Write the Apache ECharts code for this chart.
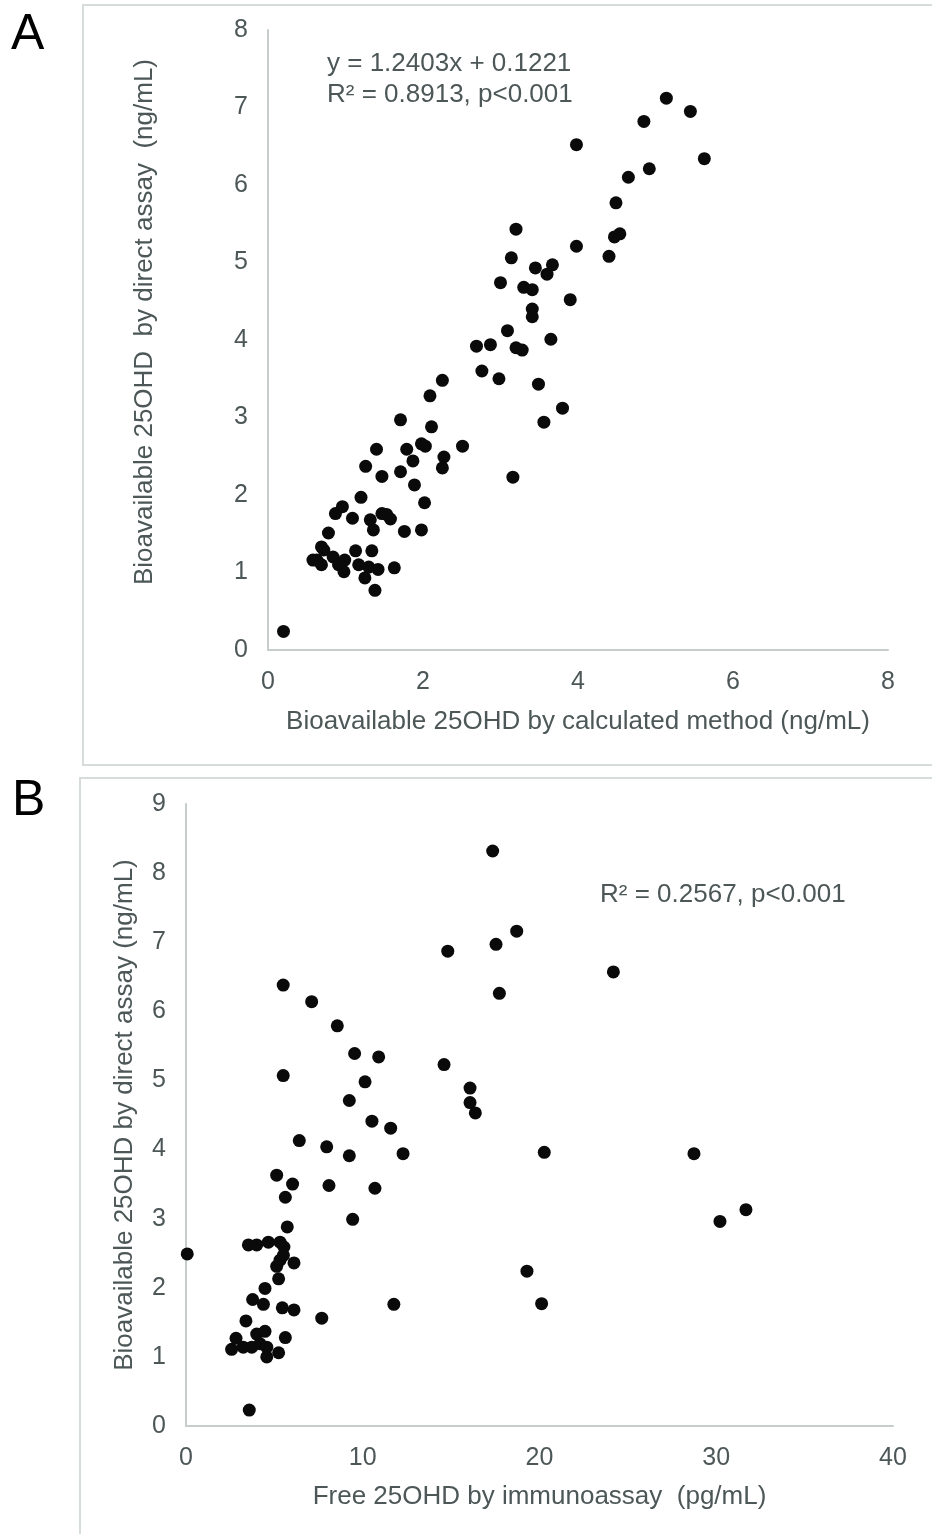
<!DOCTYPE html>
<html lang="en">
<head>
    <meta charset="UTF-8">
    <title>Bioavailable 25OHD</title>
    <style>
        body { margin: 0; background: #fff; }
        #chart { width: 932px; height: 1534px; }
    </style>
</head>
<body>
<div id="chart"></div>

<script src="https://cdn.jsdelivr.net/npm/echarts@6/dist/echarts.min.js"></script>
<script>
    // Panel A: calculated vs direct assay (ng/mL)
    let calcA = [0.20, 0.58, 0.63, 0.69, 0.69, 0.72, 0.78, 0.84, 0.87, 0.91, 0.96, 0.98, 0.99, 1.09, 1.13, 1.17,
        1.20, 1.25, 1.26, 1.30, 1.32, 1.34, 1.36, 1.38, 1.40, 1.42, 1.47, 1.47, 1.53, 1.58, 1.63, 1.71, 1.71,
        1.76, 1.79, 1.87, 1.89, 1.98, 1.98, 2.02, 2.03, 2.09, 2.11, 2.25, 2.25, 2.27, 2.51, 2.69, 2.76, 2.87,
        2.98, 3.00, 3.09, 3.14, 3.16, 3.20, 3.20, 3.28, 3.30, 3.41, 3.41, 3.41, 3.45, 3.49, 3.56, 3.60, 3.65,
        3.67, 3.80, 3.90, 3.98, 3.98, 4.40, 4.47, 4.49, 4.54, 4.65, 4.85, 4.92, 5.14, 5.45, 5.63];
    let directA = [0.24, 1.16, 1.16, 1.10, 1.33, 1.29, 1.51, 1.20, 1.76, 1.10, 1.85, 1.01, 1.16, 1.70, 1.28, 1.10,
        1.97, 0.93, 2.37, 1.07, 1.68, 1.28, 1.55, 0.77, 2.59, 1.04, 2.24, 1.76, 1.75, 1.69, 1.06, 2.97, 2.30,
        1.53, 2.59, 2.44, 2.13, 2.66, 1.55, 1.90, 2.63, 3.28, 2.88, 3.48, 2.35, 2.49, 2.63, 3.92, 3.60, 3.94,
        3.50, 4.74, 4.12, 5.06, 2.23, 5.43, 3.90, 3.87, 4.68, 4.65, 4.40, 4.30, 4.93, 3.43, 2.94, 4.85, 4.01,
        4.97, 3.12, 4.52, 5.21, 6.52, 5.08, 5.33, 5.77, 5.37, 6.10, 6.82, 6.21, 7.12, 6.95, 6.34];

    // Panel B: free 25OHD (pg/mL) vs direct assay (ng/mL)
    let freeB = [0.07, 2.58, 2.83, 3.24, 3.39, 3.53, 3.58, 3.72, 3.77, 4.00, 4.00, 4.19, 4.38, 4.47, 4.47, 4.57,
        4.57, 4.66, 5.13, 5.13, 5.24, 5.24, 5.32, 5.32, 5.45, 5.50, 5.50, 5.51, 5.54, 5.62, 5.62, 5.73, 6.03,
        6.11, 6.11, 6.41, 7.11, 7.68, 7.96, 8.09, 8.56, 9.24, 9.24, 9.43, 9.54, 10.13, 10.52, 10.69, 10.90,
        11.58, 11.76, 12.28, 14.60, 14.81, 16.07, 16.07, 16.37, 17.35, 17.54, 17.73, 18.71, 19.29, 20.12,
        20.27, 24.18, 28.74, 30.21, 31.68];
    let directB = [2.49, 1.11, 1.27, 1.14, 1.52, 2.62, 0.23, 1.14, 1.83, 2.62, 1.33, 1.19, 1.76, 1.99, 1.37, 1.14,
        1.00, 2.66, 3.63, 2.31, 2.13, 1.06, 2.66, 2.40, 1.71, 6.38, 5.07, 2.47, 2.59, 3.31, 1.28, 2.88, 3.50,
        2.36, 1.68, 4.13, 6.14, 1.56, 4.04, 3.48, 5.79, 4.71, 3.91, 2.99, 5.39, 4.98, 4.41, 3.44, 5.34,
        4.31, 1.76, 3.94, 5.23, 6.87, 4.89, 4.68, 4.53, 8.32, 6.97, 6.26, 7.16, 2.24, 1.77,
        3.96, 6.57, 3.94, 2.96, 3.13];

    let annotA = ['y = 1.2403x + 0.1221', 'R\u00B2 = 0.8913, p<0.001'];
    let annotB = 'R\u00B2 = 0.2567, p<0.001';

    let font = '"Liberation Sans", Arial, sans-serif';
    let textColor = '#4d5757';
    let lineColor = '#c5cdcd';
    let frameColor = '#d6dcdc';

    function zip(xs, ys) {
        return xs.map((x, i) => [x, ys[i]]);
    }

    function valueAxis(min, max, interval) {
        return {
            type: 'value',
            min: min,
            max: max,
            interval: interval,
            splitLine: { show: false },
            axisTick: { show: false },
            axisLine: { show: true, lineStyle: { color: lineColor, width: 2 } },
            axisLabel: { color: textColor, fontSize: 25, fontFamily: font, margin: 20 },
            nameLocation: 'middle',
            nameTextStyle: { color: textColor, fontSize: 26, fontFamily: font }
        };
    }

    let xA = valueAxis(0, 8, 2);
    xA.gridIndex = 0;
    xA.name = 'Bioavailable 25OHD by calculated method (ng/mL)';
    xA.nameGap = 59;

    let yA = valueAxis(0, 8, 1);
    yA.gridIndex = 0;
    yA.name = 'Bioavailable 25OHD  by direct assay  (ng/mL)';
    yA.nameGap = 110;
    yA.nameTextStyle = Object.assign({}, yA.nameTextStyle, { padding: [0, 0, 0, 36] });

    let xB = valueAxis(0, 40, 10);
    xB.gridIndex = 1;
    xB.name = 'Free 25OHD by immunoassay  (pg/mL)';
    xB.nameGap = 58;

    let yB = valueAxis(0, 9, 1);
    yB.gridIndex = 1;
    yB.name = 'Bioavailable 25OHD by direct assay (ng/mL)';
    yB.nameGap = 48;

    let dotStyle = { color: '#0a0a0a', opacity: 1 };

    let option = {
        animation: false,
        backgroundColor: '#ffffff',
        grid: [
            { left: 268, right: 44, top: 30, bottom: 884 },
            { left: 186, right: 39, top: 804, bottom: 108 }
        ],
        xAxis: [xA, xB],
        yAxis: [yA, yB],
        graphic: [
            { type: 'rect', shape: { x: 83, y: 5, width: 860, height: 760 },
              style: { fill: 'none', stroke: frameColor, lineWidth: 2 }, silent: true },
            { type: 'rect', shape: { x: 80, y: 778, width: 870, height: 770 },
              style: { fill: 'none', stroke: frameColor, lineWidth: 2 }, silent: true },
            { type: 'text', left: 11, top: 10,
              style: { text: 'A', fontSize: 50, fontFamily: font, fill: '#000' } },
            { type: 'text', left: 12, top: 776,
              style: { text: 'B', fontSize: 50, fontFamily: font, fill: '#000' } },
            { type: 'text', left: 327, top: 51,
              style: { text: annotA[0], fontSize: 26, fontFamily: font, fill: textColor } },
            { type: 'text', left: 327, top: 82,
              style: { text: annotA[1], fontSize: 26, fontFamily: font, fill: textColor } },
            { type: 'text', left: 600, top: 882,
              style: { text: annotB, fontSize: 26, fontFamily: font, fill: textColor } }
        ],
        series: [
            {
                name: 'A',
                type: 'scatter',
                xAxisIndex: 0,
                yAxisIndex: 0,
                symbolSize: 13,
                itemStyle: dotStyle,
                data: zip(calcA, directA)
            },
            {
                name: 'B',
                type: 'scatter',
                xAxisIndex: 1,
                yAxisIndex: 1,
                symbolSize: 13,
                itemStyle: dotStyle,
                data: zip(freeB, directB)
            }
        ]
    };

    let chart = echarts.init(document.getElementById('chart'));
    chart.setOption(option);
</script>
</body>
</html>
